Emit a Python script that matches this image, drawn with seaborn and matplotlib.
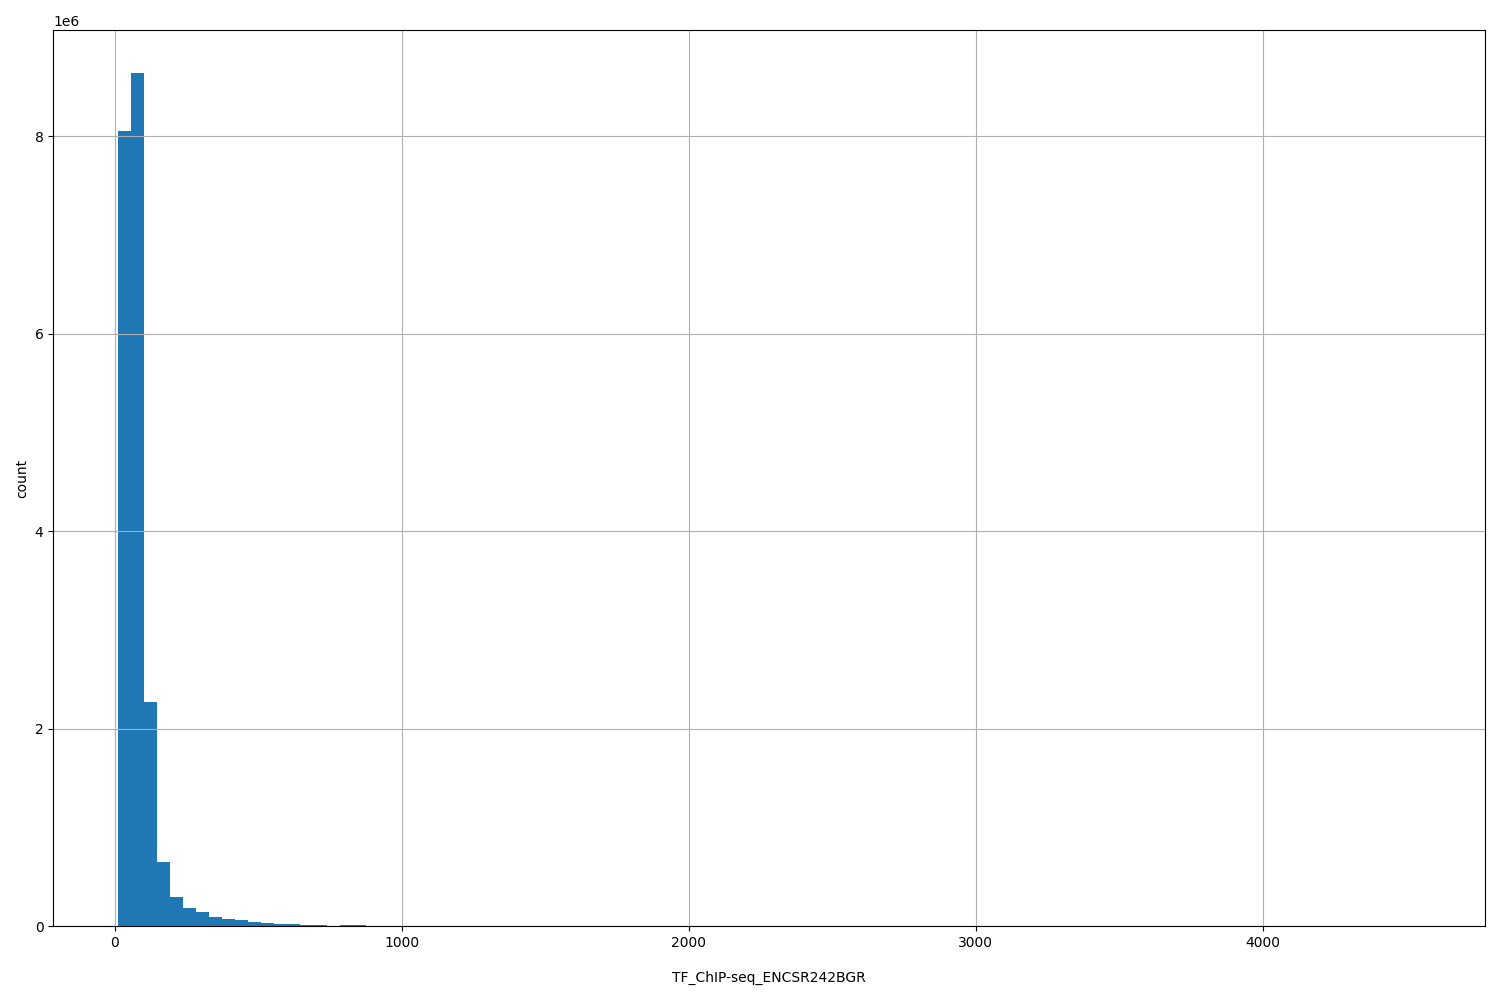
import numpy as np
import pandas as pd
import seaborn as sns
import matplotlib
matplotlib.use("Agg")
import matplotlib.pyplot as plt

# histogram of signal values, 100 bins between lo and hi
lo = 12.8
hi = 4548.0
n_bins = 100
# counts of the first bins (the rest are ~0)
first_counts = [8.05e6, 8.64e6, 2.27e6, 0.65e6, 0.30e6, 0.19e6, 0.14e6, 0.09e6,
                0.07e6, 0.06e6, 0.04e6, 0.03e6, 0.02e6, 0.02e6, 0.01e6, 0.01e6,
                0.002e6, 0.01e6, 0.01e6, 0.003e6, 0.002e6, 0.001e6]

width = (hi - lo) / n_bins
counts = np.zeros(n_bins)
counts[:len(first_counts)] = first_counts
centers = lo + width * (np.arange(n_bins) + 0.5)
df = pd.DataFrame({"value": centers, "count": counts})

fig, ax = plt.subplots(figsize=(15, 10), dpi=100)
sns.histplot(data=df, x="value", weights="count", bins=n_bins, binrange=(lo, hi),
             color="#1f77b4", alpha=1, linewidth=0, ax=ax)
ax.grid(True)
ax.set_xlabel("TF_ChIP-seq_ENCSR242BGR", labelpad=15)
ax.set_ylabel("count")
plt.tight_layout()
fig.savefig("out.png")
